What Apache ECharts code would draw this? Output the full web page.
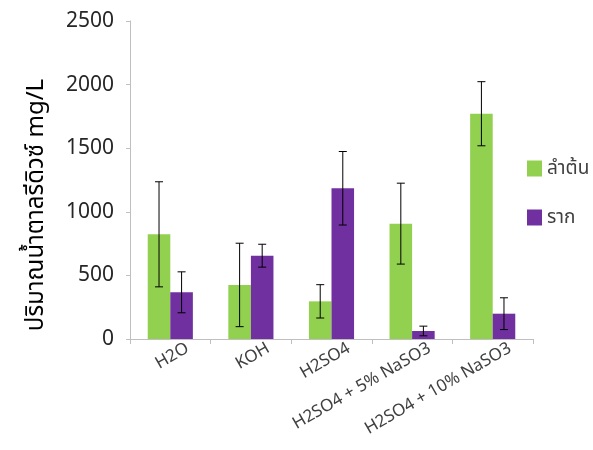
<!DOCTYPE html>
<html><head><meta charset="utf-8">
<script src="https://cdn.jsdelivr.net/npm/echarts@6/dist/echarts.min.js"></script>
<style>html,body{margin:0;padding:0;background:#fff}#c{width:593px;height:450px}</style>
</head><body><div id="c"></div>
<script>
const categories = ['H2O', 'KOH', 'H2SO4', 'H2SO4 + 5% NaSO3', 'H2SO4 + 10% NaSO3'];
const stemValues = [823, 425, 296, 907, 1771];
const stemErr = [413, 328, 131, 318, 252];
const rootValues = [367, 655, 1185, 63, 199];
const rootErr = [161, 90, 289, 38, 125];
const seriesNames = ['ลำต้น', 'ราก'];
const yTicks = [0, 500, 1000, 1500, 2000, 2500];

const FONT = '"Noto Sans", "Noto Sans Thai", "Open Sans", sans-serif';
const BAR_FRAC = 0.28;

function errorSeries(values, errs, side) {
  return {
    type: 'custom',
    silent: true,
    z: 10,
    data: values.map((v, i) => [i, v, errs[i]]),
    renderItem: function (params, api) {
      const i = api.value(0), v = api.value(1), e = api.value(2);
      const band = api.size([1, 0])[0];
      const off = side * band * BAR_FRAC / 2;
      const top = api.coord([i, v + e]);
      const bot = api.coord([i, v - e]);
      const x = top[0] + off;
      const cap = 4;
      const style = { stroke: '#000', lineWidth: 1 };
      return {
        type: 'group',
        children: [
          { type: 'line', shape: { x1: x, y1: top[1], x2: x, y2: bot[1] }, style: style },
          { type: 'line', shape: { x1: x - cap, y1: top[1], x2: x + cap, y2: top[1] }, style: style },
          { type: 'line', shape: { x1: x - cap, y1: bot[1], x2: x + cap, y2: bot[1] }, style: style }
        ]
      };
    }
  };
}

const chart = echarts.init(document.getElementById('c'));
chart.setOption({
  animation: false,
  textStyle: { fontFamily: FONT },
  grid: { left: 130, right: 60, top: 21, bottom: 111 },
  legend: {
    orient: 'vertical',
    left: 522,
    top: 154,
    itemWidth: 15,
    itemHeight: 16,
    itemGap: 30,
    icon: 'rect',
    textStyle: { fontSize: 19, color: '#404040', fontFamily: FONT },
    data: seriesNames
  },
  xAxis: {
    type: 'category',
    data: categories,
    axisLine: { lineStyle: { color: '#bfbfbf' } },
    axisTick: { show: true, length: 5, lineStyle: { color: '#bfbfbf' } },
    axisLabel: { rotate: 30, fontSize: 17, color: '#404040', margin: 18, interval: 0,
      padding: [0, -20, 0, 0] }
  },
  yAxis: {
    type: 'value',
    min: 0, max: 2500, interval: 500,
    name: 'ปริมาณน้ำตาลรีดิวซ์ mg/L',
    nameLocation: 'middle',
    nameRotate: 90,
    nameGap: 82,
    nameTextStyle: { fontSize: 24, color: '#000', padding: [0, 50, 0, 0] },
    splitLine: { show: false },
    axisLine: { show: true, lineStyle: { color: '#bfbfbf' } },
    axisTick: { show: true, length: 4, lineStyle: { color: '#bfbfbf' } },
    axisLabel: { fontSize: 21, color: '#262626', margin: 16,
      formatter: v => yTicks.indexOf(v) >= 0 ? String(v) : '' }
  },
  series: [
    { name: seriesNames[0], type: 'bar', data: stemValues, barWidth: '28%', barGap: '0%',
      itemStyle: { color: '#92d050' } },
    { name: seriesNames[1], type: 'bar', data: rootValues, barWidth: '28%', barGap: '0%',
      itemStyle: { color: '#7030a0' } },
    errorSeries(stemValues, stemErr, -1),
    errorSeries(rootValues, rootErr, 1)
  ]
});
</script></body></html>
